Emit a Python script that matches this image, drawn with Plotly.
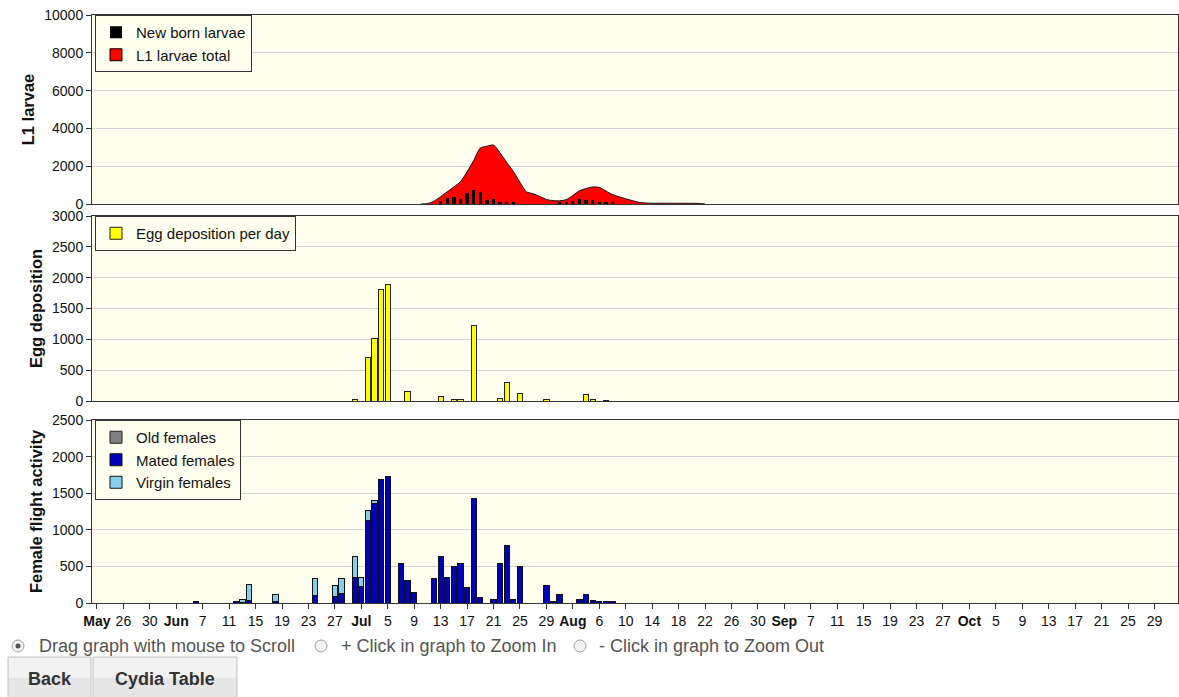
import plotly.graph_objects as go
import pandas as pd

# ---------------- data ----------------
YEAR = "2015"

l1_dates = ["07-10", "07-11", "07-12", "07-13", "07-14", "07-15", "07-16", "07-17", "07-18",
            "07-19", "07-20", "07-21", "07-22", "07-23", "07-24", "07-25", "07-26", "07-27",
            "07-28", "07-29", "07-30", "07-31", "08-01", "08-02", "08-03", "08-04", "08-05",
            "08-06", "08-07", "08-08", "08-09", "08-10", "08-11", "08-12", "08-13", "08-14",
            "08-15", "08-16", "08-17", "08-18", "08-19", "08-20", "08-21", "08-22"]
l1_total = [0, 20, 150, 390, 650, 900, 1180, 1700, 2300,
            2960, 3060, 3120, 2700, 2200, 1720, 1150, 640, 540,
            400, 240, 180, 170, 230, 450, 700, 820, 900,
            880, 690, 500, 380, 280, 180, 90, 55, 40,
            40, 40, 40, 40, 40, 35, 30, 0]

newborn_dates = ["07-13", "07-14", "07-15", "07-16", "07-17", "07-18", "07-19", "07-20",
                 "07-21", "07-22", "07-23", "07-24", "07-31", "08-01", "08-02", "08-03",
                 "08-04", "08-05", "08-06", "08-07", "08-08"]
newborn = [160, 335, 390, 265, 600, 740, 650, 210,
           250, 120, 70, 70, 60, 120, 160, 265,
           210, 210, 120, 120, 70]

egg_dates = ["06-30", "07-02", "07-03", "07-04", "07-05", "07-08", "07-13", "07-15", "07-16",
             "07-18", "07-22", "07-23", "07-25", "07-29", "08-04", "08-05", "08-07"]
egg = [20, 700, 1010, 1805, 1885, 162, 81, 20, 20,
       1231, 38, 303, 119, 20, 103, 20, 15]

fem_dates = ["06-06", "06-12", "06-13", "06-14", "06-18", "06-24", "06-27", "06-28", "06-30",
             "07-01", "07-02", "07-03", "07-04", "07-05", "07-07", "07-08", "07-09", "07-12",
             "07-13", "07-14", "07-15", "07-16", "07-17", "07-18", "07-19", "07-21", "07-22",
             "07-23", "07-24", "07-25", "07-29", "07-30", "07-31", "08-03", "08-04", "08-05",
             "08-06", "08-07", "08-08"]
mated = [15, 15, 10, 32, 14, 100, 87, 132, 355,
         219, 1125, 1366, 1685, 1730, 546, 305, 150, 328,
         638, 342, 496, 533, 205, 1430, 82, 46, 533,
         792, 46, 496, 237, 14, 114, 46, 114, 32,
         14, 14, 14]
virgin = [0, 0, 35, 223, 105, 228, 150, 196, 283,
          123, 136, 32, 0, 0, 0, 0, 0, 0,
          0, 0, 0, 0, 0, 0, 0, 0, 0,
          0, 0, 0, 0, 0, 0, 0, 0, 0,
          0, 0, 0]
old = [0] * len(fem_dates)

tick_labels = ["<b>May</b>", "26", "30", "<b>Jun</b>", "7", "11", "15", "19", "23", "27",
               "<b>Jul</b>", "5", "9", "13", "17", "21", "25", "29", "<b>Aug</b>", "6",
               "10", "14", "18", "22", "26", "30", "<b>Sep</b>", "7", "11", "15",
               "19", "23", "27", "<b>Oct</b>", "5", "9", "13", "17", "21", "25", "29"]
tick_vals = pd.date_range(YEAR + "-05-22", periods=len(tick_labels), freq="4D")


def d(lst):
    return [YEAR + "-" + s for s in lst]


# ---------------- style ----------------
FONT = "Arial, Liberation Sans, sans-serif"
BG = "#FFFFF0"
GRID = "#D4D4D4"
AX = "#333333"
DAY = 86400000

W, H = 1179, 697
ML, MR, MT, MB = 92, 1, 15, 94
PW, PH = W - ML - MR, H - MT - MB


def px(x):
    return (x - ML) / PW


def py(y):
    return (H - MB - y) / PH


fig = go.Figure()

# top panel
fig.add_trace(go.Scatter(x=d(l1_dates), y=l1_total, mode="lines",
                         line=dict(color="#111", width=1, shape="spline", smoothing=0.6),
                         fill="tozeroy", fillcolor="#FF0000", showlegend=False, hoverinfo="skip",
                         xaxis="x", yaxis="y"))
fig.add_trace(go.Bar(x=d(newborn_dates), y=newborn, name="New born larvae",
                     marker=dict(color="#000000", line=dict(width=0)),
                     width=0.5 * DAY, xaxis="x", yaxis="y4", legend="legend", legendrank=1))
fig.add_trace(go.Bar(x=[None], y=[None], name="L1 larvae total",
                     marker=dict(color="#FF0000", line=dict(color="#000", width=1)),
                     xaxis="x", yaxis="y", legend="legend", legendrank=2))

# middle panel
fig.add_trace(go.Bar(x=d(egg_dates), y=egg, name="Egg deposition per day",
                     marker=dict(color="#FFFF00", line=dict(color="#222", width=1)),
                     width=0.8 * DAY, xaxis="x2", yaxis="y2", legend="legend2"))

# bottom panel
fig.add_trace(go.Bar(x=d(fem_dates), y=old, name="Old females",
                     marker=dict(color="#808080", line=dict(color="#222", width=1)),
                     width=0.8 * DAY, xaxis="x3", yaxis="y3", legend="legend3", legendrank=1))
fig.add_trace(go.Bar(x=d(fem_dates), y=mated, name="Mated females",
                     marker=dict(color="#0000BB", line=dict(color="#111", width=1)),
                     width=0.8 * DAY, xaxis="x3", yaxis="y3", legend="legend3", legendrank=2))
fig.add_trace(go.Bar(x=d(fem_dates), y=virgin, name="Virgin females",
                     marker=dict(color="#87CEEB", line=dict(color="#111", width=1)),
                     width=0.8 * DAY, xaxis="x3", yaxis="y3", legend="legend3", legendrank=3))

xrange = [YEAR + "-05-21 06:00", YEAR + "-11-01 13:30"]
tickfont = dict(family=FONT, size=14, color="#111")
common_x = dict(type="date", range=xrange, showline=True, mirror=True, linecolor=AX, linewidth=1,
                showgrid=False, zeroline=False, fixedrange=True)
common_y = dict(showline=True, mirror=True, linecolor=AX, linewidth=1, showgrid=True, gridcolor=GRID,
                zeroline=False, ticks="outside", ticklen=5, tickcolor=AX, tickfont=tickfont,
                tickformat="d", fixedrange=True)
title_font = dict(family=FONT, size=16.5, color="#111")

d1 = [py(204), 1]
d2 = [py(401), py(216)]
d3 = [0, py(420)]

legend_common = dict(bgcolor=BG, bordercolor="#333", borderwidth=1,
                     font=dict(family=FONT, size=15, color="#111"),
                     xanchor="left", yanchor="top", x=px(95), traceorder="normal", tracegroupgap=0)

fig.update_layout(
    width=W, height=H, margin=dict(l=ML, r=MR, t=MT, b=MB),
    paper_bgcolor="white", plot_bgcolor=BG, barmode="stack", bargap=0.2,
    font=dict(family=FONT, size=14, color="#111"),
    xaxis=dict(common_x, domain=[0, 1], anchor="y", matches="x3", showticklabels=False, ticks=""),
    xaxis2=dict(common_x, domain=[0, 1], anchor="y2", matches="x3", showticklabels=False, ticks=""),
    xaxis3=dict(common_x, domain=[0, 1], anchor="y3", tickmode="array", tickvals=tick_vals,
                ticktext=tick_labels, ticks="outside", ticklen=5, tickcolor=AX, tickfont=tickfont),
    yaxis=dict(common_y, domain=d1, anchor="x", range=[0, 10000], dtick=2000,
               title=dict(text="<b>L1 larvae</b>", font=title_font, standoff=5)),
    yaxis4=dict(domain=d1, anchor="x", overlaying="y", range=[0, 10000], visible=False, fixedrange=True),
    yaxis2=dict(common_y, domain=d2, anchor="x2", range=[0, 3000], dtick=500,
                title=dict(text="<b>Egg deposition</b>", font=title_font, standoff=5)),
    yaxis3=dict(common_y, domain=d3, anchor="x3", range=[0, 2500], dtick=500,
                title=dict(text="<b>Female flight activity</b>", font=title_font, standoff=5)),
    legend=dict(legend_common, y=py(15)),
    legend2=dict(legend_common, y=py(216)),
    legend3=dict(legend_common, y=py(420)),
)

# --------- controls below the chart (radio buttons and buttons) ---------
shapes = []
annots = []
radio_y = 646
for cx, checked in [(18, True), (321, False), (580, False)]:
    r = 6
    shapes.append(dict(type="circle", xref="paper", yref="paper", x0=px(cx - r), x1=px(cx + r),
                       y0=py(radio_y + r), y1=py(radio_y - r), line=dict(color="#A0A0A0", width=1),
                       fillcolor="#F2F2F2", layer="above"))
    if checked:
        r2 = 2.5
        shapes.append(dict(type="circle", xref="paper", yref="paper", x0=px(cx - r2), x1=px(cx + r2),
                           y0=py(radio_y + r2), y1=py(radio_y - r2), line=dict(color="#555", width=0),
                           fillcolor="#555555", layer="above"))
for tx, txt in [(37, "Drag graph with mouse to Scroll"), (339, "+ Click in graph to Zoom In"),
                (597, "- Click in graph to Zoom Out")]:
    annots.append(dict(text=txt, xref="paper", yref="paper", x=px(tx), y=py(radio_y), xanchor="left",
                       yanchor="middle", showarrow=False, font=dict(family=FONT, size=18, color="#555")))

for x0, x1, label in [(8, 91, "Back"), (93, 237, "Cydia Table")]:
    shapes.append(dict(type="rect", xref="paper", yref="paper", x0=px(x0), x1=px(x1), y0=py(700), y1=py(657),
                       line=dict(color="#C6C6C6", width=1), fillcolor="#E6E6E6", layer="above"))
    shapes.append(dict(type="rect", xref="paper", yref="paper", x0=px(x0 + 1), x1=px(x1 - 1), y0=py(678),
                       y1=py(658), line=dict(width=0), fillcolor="#F2F2F2", layer="above"))
    annots.append(dict(text="<b>" + label + "</b>", xref="paper", yref="paper", x=px((x0 + x1) / 2),
                       y=py(679), xanchor="center", yanchor="middle", showarrow=False,
                       font=dict(family=FONT, size=18, color="#333")))

fig.update_layout(shapes=shapes, annotations=annots)

fig.write_html("out.html", config={"displayModeBar": False},
               post_script="document.body.style.margin='0px';document.body.style.overflow='hidden';")
